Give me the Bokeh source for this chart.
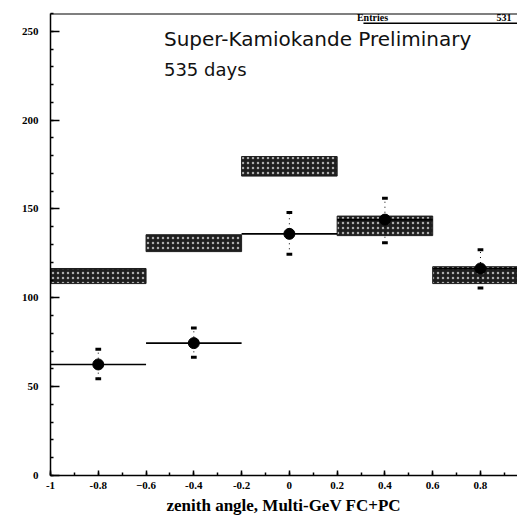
from bokeh.plotting import figure
from bokeh.models import Range1d, Label, Span, SingleIntervalTicker, ColumnDataSource, Title
from bokeh.embed import file_html
from bokeh.resources import INLINE

# ---- data ----
bin_lo = [-1.0, -0.6, -0.2, 0.2, 0.6]
bin_hi = [-0.6, -0.2, 0.2, 0.6, 1.0]
bin_center = [-0.8, -0.4, 0.0, 0.4, 0.8]
mc_low = [108, 126, 168.5, 135, 108]
mc_high = [116.5, 135.5, 179.5, 146, 117.5]
data_val = [62.5, 74.5, 136, 144, 116.5]
data_err_lo = [54.5, 66.5, 124.5, 131, 105.5]
data_err_hi = [71, 83, 148, 156, 127]
entries = "531"
title_line1 = "Super-Kamiokande Preliminary"
title_line2 = "535 days"
x_label = "zenith angle, Multi-GeV FC+PC"
x_ticks = [-1.0, -0.8, -0.6, -0.4, -0.2, 0.0, 0.2, 0.4, 0.6, 0.8]
x_tick_labels = ["-1", "-0.8", "-0.6", "-0.4", "-0.2", "0", "0.2", "0.4", "0.6", "0.8"]

p = figure(width=517, height=518, output_backend="svg", toolbar_location=None,
           x_range=Range1d(-1.0, 0.955), y_range=Range1d(0, 260),
           min_border_left=50, min_border_right=0, min_border_top=13, min_border_bottom=43)
p.background_fill_color = "white"
p.border_fill_color = "white"
p.outline_line_color = None
p.grid.visible = False

# axes
for ax in (p.xaxis[0], p.yaxis[0]):
    ax.major_tick_in = 7
    ax.major_tick_out = 0
    ax.minor_tick_in = 3
    ax.minor_tick_out = 0
    ax.axis_line_width = 1.5
    ax.major_tick_line_width = 1.5
    ax.minor_tick_line_width = 1.5
    ax.major_label_text_font = "Liberation Serif"
    ax.major_label_text_font_style = "bold"
    ax.major_label_text_font_size = "11px"
    ax.major_label_text_color = "black"

p.xaxis.ticker = SingleIntervalTicker(interval=0.2, num_minor_ticks=2)
p.xaxis.major_label_overrides = {t: l for t, l in zip(x_ticks, x_tick_labels)}
p.xaxis.major_label_standoff = 6
p.xaxis.major_tick_in = 5
p.yaxis.ticker = SingleIntervalTicker(interval=50, num_minor_ticks=5)
p.yaxis.major_label_standoff = 12
p.yaxis.major_tick_in = 9

# x axis title, below the axis
p.add_layout(Title(text=x_label, align="left", offset=116, text_font="Liberation Serif",
                   text_font_style="bold", text_font_size="17px", text_color="black",
                   standoff=4), "below")

# top frame line
p.add_layout(Span(location=260, dimension="width", line_color="black", line_width=2))

# MC prediction boxes
p.quad(left=bin_lo, right=bin_hi, bottom=mc_low, top=mc_high,
       fill_color="#1e1e1e", line_color="#1e1e1e", line_width=1,
       hatch_pattern="dot", hatch_color="#d0d0d0", hatch_scale=5, hatch_weight=1.2, hatch_alpha=0.8)

# data points with errors
src = ColumnDataSource(dict(lo=bin_lo, hi=bin_hi, xc=bin_center, y=data_val,
                            elo=data_err_lo, ehi=data_err_hi))
p.segment(x0="lo", x1="hi", y0="y", y1="y", source=src, line_color="black", line_width=1.6)
p.segment(x0="xc", x1="xc", y0="elo", y1="ehi", source=src, line_color="black",
          line_width=1, line_dash="1 4")
cap = 0.012
src_caps = ColumnDataSource(dict(
    x0=[c - cap for c in bin_center] * 2,
    x1=[c + cap for c in bin_center] * 2,
    y=list(data_err_lo) + list(data_err_hi)))
p.segment(x0="x0", x1="x1", y0="y", y1="y", source=src_caps, line_color="black", line_width=3)
p.scatter(x="xc", y="y", source=src, size=11, marker="circle", fill_color="black", line_color="black")

# texts
p.add_layout(Label(x=-0.525, y=245.5, text=title_line1, text_font="DejaVu Sans",
                   text_font_size="20px", text_baseline="middle", text_color="#111111"))
p.add_layout(Label(x=-0.525, y=228.5, text=title_line2, text_font="DejaVu Sans",
                   text_font_size="18px", text_baseline="middle", text_color="#111111"))
p.add_layout(Label(x=0.348, y=258, text="Entries", text_font="Liberation Serif",
                   text_font_style="bold", text_font_size="10px", text_baseline="middle",
                   text_align="center", text_color="black"))
p.add_layout(Label(x=0.93, y=258, text=entries, text_font="Liberation Serif",
                   text_font_style="bold", text_font_size="10px", text_baseline="middle",
                   text_align="right", text_color="black"))
p.segment(x0=[0.31], x1=[0.955], y0=[254.5], y1=[254.5], line_color="black", line_width=1.5)

open("out.html", "w").write(file_html(p, INLINE))
